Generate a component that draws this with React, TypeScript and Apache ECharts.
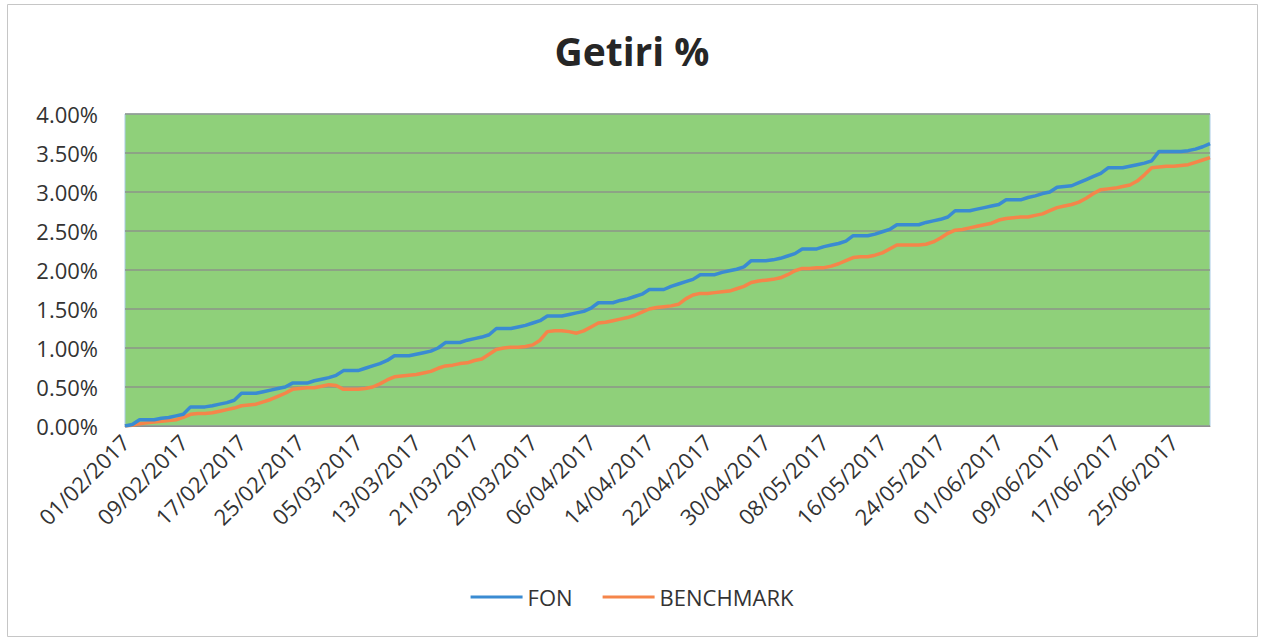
import React, { useEffect, useRef } from "react";
import * as echarts from "echarts";

const TITLE = "Getiri %";
const SERIES_NAMES = ["FON", "BENCHMARK"];
const START_DATE = [2017, 1, 1]; // year, month index (Feb), day
const DAY_COUNT = 150; // 01/02/2017 .. 30/06/2017

// Cumulative return, in percent
const fon = [
  0, 0.02, 0.08, 0.08, 0.08, 0.1, 0.11, 0.13, 0.15, 0.245,
  0.245, 0.245, 0.26, 0.28, 0.3, 0.33, 0.42, 0.42, 0.42, 0.44,
  0.46, 0.48, 0.5, 0.55, 0.55, 0.55, 0.58, 0.6, 0.62, 0.65,
  0.71, 0.71, 0.71, 0.74, 0.77, 0.8, 0.84, 0.9, 0.9, 0.9,
  0.92, 0.94, 0.96, 1.0, 1.07, 1.07, 1.07, 1.1, 1.12, 1.14,
  1.17, 1.25, 1.25, 1.25, 1.27, 1.29, 1.32, 1.35, 1.41, 1.41,
  1.41, 1.43, 1.45, 1.47, 1.51, 1.58, 1.58, 1.58, 1.61, 1.63,
  1.66, 1.69, 1.75, 1.75, 1.75, 1.79, 1.82, 1.85, 1.88, 1.94,
  1.94, 1.94, 1.97, 1.99, 2.01, 2.04, 2.12, 2.12, 2.12, 2.13,
  2.15, 2.18, 2.21, 2.27, 2.27, 2.27, 2.3, 2.32, 2.34, 2.37,
  2.44, 2.44, 2.44, 2.46, 2.49, 2.52, 2.58, 2.58, 2.58, 2.58,
  2.61, 2.63, 2.65, 2.68, 2.76, 2.76, 2.76, 2.78, 2.8, 2.82,
  2.84, 2.9, 2.9, 2.9, 2.93, 2.95, 2.98, 3.0, 3.06, 3.07,
  3.08, 3.12, 3.16, 3.2, 3.24, 3.31, 3.31, 3.31, 3.33, 3.35,
  3.37, 3.4, 3.52, 3.52, 3.52, 3.52, 3.53, 3.55, 3.58, 3.62,
];

const benchmark = [
  0, 0.01, 0.03, 0.04, 0.05, 0.06, 0.07, 0.08, 0.11, 0.15,
  0.16, 0.16, 0.17, 0.19, 0.21, 0.23, 0.26, 0.27, 0.28, 0.31,
  0.34, 0.38, 0.42, 0.47, 0.48, 0.49, 0.49, 0.51, 0.53, 0.52,
  0.47, 0.47, 0.47, 0.48, 0.5, 0.54, 0.59, 0.63, 0.64, 0.65,
  0.66, 0.68, 0.7, 0.74, 0.77, 0.78, 0.8, 0.81, 0.84, 0.86,
  0.92, 0.98, 1.0, 1.01, 1.01, 1.02, 1.04, 1.1, 1.21, 1.22,
  1.22, 1.21, 1.19, 1.22, 1.27, 1.32, 1.33, 1.35, 1.37, 1.39,
  1.42, 1.46, 1.5, 1.52, 1.53, 1.54, 1.56, 1.63, 1.68, 1.7,
  1.7, 1.71, 1.72, 1.73, 1.76, 1.79, 1.84, 1.86, 1.87, 1.88,
  1.9, 1.94, 1.99, 2.02, 2.02, 2.03, 2.03, 2.05, 2.08, 2.12,
  2.16, 2.17, 2.17, 2.19, 2.22, 2.27, 2.32, 2.32, 2.32, 2.32,
  2.33, 2.36, 2.41, 2.47, 2.51, 2.52, 2.54, 2.56, 2.58, 2.6,
  2.64, 2.66, 2.67, 2.68, 2.68, 2.7, 2.72, 2.76, 2.8, 2.82,
  2.84, 2.87, 2.92, 2.98, 3.03, 3.04, 3.05, 3.07, 3.09, 3.14,
  3.22, 3.31, 3.32, 3.33, 3.33, 3.34, 3.35, 3.38, 3.41, 3.44,
];

const Y_MIN = 0;
const Y_MAX = 4;
const Y_STEP = 0.5;
const LABEL_EVERY = 8;

function pad(n: number) {
  return n < 10 ? "0" + n : String(n);
}

function buildDates(): string[] {
  const out: string[] = [];
  for (let i = 0; i < DAY_COUNT; i++) {
    const d = new Date(Date.UTC(START_DATE[0], START_DATE[1], START_DATE[2] + i));
    out.push(pad(d.getUTCDate()) + "/" + pad(d.getUTCMonth() + 1) + "/" + d.getUTCFullYear());
  }
  return out;
}

const dates = buildDates();

const FONT = "'Open Sans', 'Noto Sans', sans-serif";

export default function App() {
  const ref = useRef<HTMLDivElement>(null);

  useEffect(() => {
    if (!ref.current) return;
    const chart = echarts.init(ref.current, null, { renderer: "svg" });
    chart.setOption({
      animation: false,
      backgroundColor: "#ffffff",
      textStyle: { fontFamily: FONT },
      title: {
        text: TITLE,
        left: "center",
        top: 26,
        textStyle: { fontFamily: FONT, fontSize: 39, fontWeight: "bold", color: "#262626" },
      },
      graphic: [
        {
          type: "rect",
          shape: { x: 7.5, y: 4.5, width: 1250, height: 632 },
          style: { fill: "none", stroke: "#c6c6c6", lineWidth: 1 },
          silent: true,
        },
      ],
      legend: {
        bottom: 29,
        left: "center",
        itemWidth: 52,
        itemHeight: 3,
        itemGap: 30,
        icon: "rect",
        textStyle: { fontFamily: FONT, fontSize: 22, color: "#333333" },
        data: SERIES_NAMES,
      },
      grid: {
        left: 125,
        right: 54,
        top: 114,
        bottom: 216,
        show: true,
        backgroundColor: "#8fd07a",
        borderColor: "#a9cbe6",
        borderWidth: 1,
      },
      xAxis: {
        type: "category",
        data: dates,
        boundaryGap: false,
        axisLine: { show: true, lineStyle: { color: "#8f8f8f", width: 1 } },
        axisTick: { show: false },
        axisLabel: {
          interval: LABEL_EVERY - 1,
          rotate: 45,
          margin: 12,
          fontFamily: FONT,
          fontSize: 22,
          color: "#333333",
        },
        splitLine: { show: false },
      },
      yAxis: {
        type: "value",
        min: Y_MIN,
        max: Y_MAX,
        interval: Y_STEP,
        axisLine: { show: false },
        axisTick: { show: false },
        axisLabel: {
          margin: 27,
          fontFamily: FONT,
          fontSize: 22,
          color: "#333333",
          formatter: (v: number) => v.toFixed(2) + "%",
        },
        splitLine: { show: true, lineStyle: { color: "#8c958a", width: 1.5 } },
      },
      series: [
        {
          name: SERIES_NAMES[0],
          type: "line",
          data: fon,
          showSymbol: false,
          symbol: "none",
          lineStyle: { color: "#3a8bd2", width: 3.5 },
          itemStyle: { color: "#3a8bd2" },
          z: 3,
        },
        {
          name: SERIES_NAMES[1],
          type: "line",
          data: benchmark,
          showSymbol: false,
          symbol: "none",
          lineStyle: { color: "#f5854a", width: 3.5 },
          itemStyle: { color: "#f5854a" },
          z: 2,
        },
      ],
    });
    return () => chart.dispose();
  }, []);

  return (
    <div
      ref={ref}
      style={{ position: "absolute", left: 0, top: 0, width: 1264, height: 642 }}
    />
  );
}
